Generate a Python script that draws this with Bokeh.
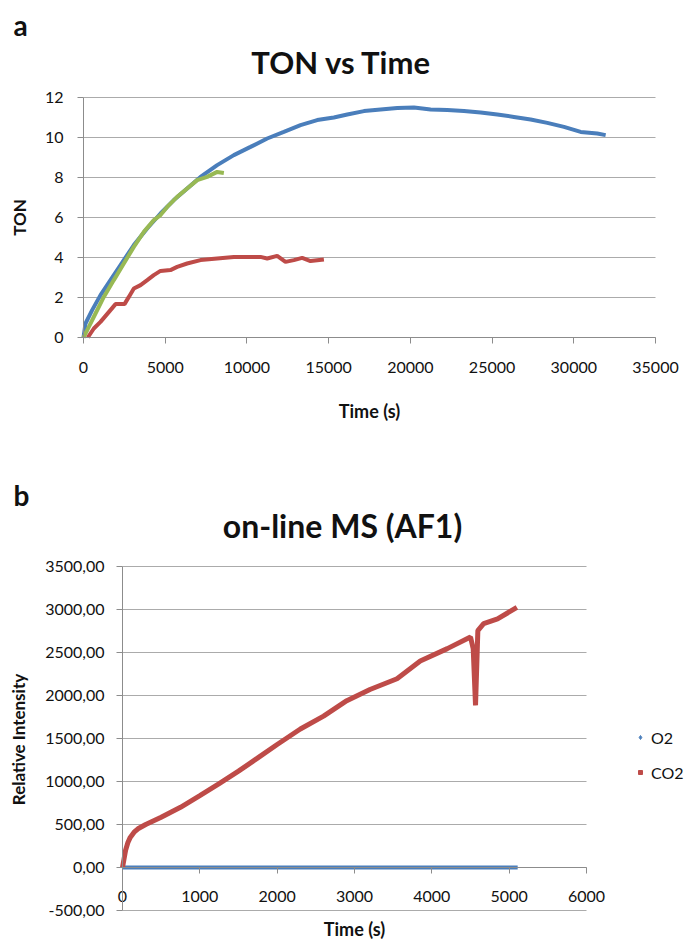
import math
from bokeh.plotting import figure
from bokeh.models import (Label, Legend, LegendItem, FixedTicker, CustomJSTickFormatter,
                          Range1d, LinearAxis, BasicTickFormatter)
from bokeh.layouts import column
from bokeh.embed import file_html
from bokeh.resources import INLINE

FONT = "Lato"
BLUE = "#4A7EBB"
RED = "#BE4B48"
GREEN = "#98B954"
GRID = "#ABABAB"
AXIS = "#8C8C8C"
TXT = "#111111"

# ---------- panel a: TON vs Time ----------
ton_x_ticks = [0, 5000, 10000, 15000, 20000, 25000, 30000, 35000]
ton_y_ticks = [0, 2, 4, 6, 8, 10, 12]

blue_t = [0, 122, 530, 1040, 1650, 2264, 3080, 3896, 4712, 5528, 6344, 7160, 8180, 9200,
          10220, 11240, 12260, 13280, 14300, 15320, 16140, 17160, 18180, 19200, 20220,
          21240, 22260, 23280, 24300, 25320, 26340, 27360, 28380, 29400, 30420, 31440, 31950]
blue_ton = [0, 0.70, 1.37, 2.12, 2.87, 3.62, 4.62, 5.45, 6.20, 6.87, 7.45, 8.03, 8.62, 9.12,
            9.53, 9.95, 10.28, 10.62, 10.87, 11.00, 11.15, 11.32, 11.40, 11.48, 11.50,
            11.40, 11.37, 11.33, 11.25, 11.15, 11.03, 10.90, 10.73, 10.53, 10.28, 10.20, 10.12]

green_t = [0, 326, 734, 1244, 1856, 2468, 3080, 3692, 4304, 4712, 5120, 5732, 6344, 6956,
           7568, 8180, 8588]
green_ton = [0, 0.53, 1.20, 2.03, 2.87, 3.70, 4.53, 5.28, 5.87, 6.12, 6.53, 7.03, 7.45, 7.87,
             8.03, 8.28, 8.23]

red_t = [265, 632, 1040, 1650, 1960, 2510, 2775, 3080, 3490, 3900, 4300, 4710, 5320, 5730,
         6340, 7160, 8180, 9200, 10000, 10830, 11240, 11850, 12360, 12870, 13380, 13890, 14710]
red_ton = [0, 0.45, 0.78, 1.37, 1.67, 1.67, 2.03, 2.45, 2.62, 2.87, 3.12, 3.33, 3.37, 3.53,
           3.70, 3.87, 3.95, 4.03, 4.03, 4.03, 3.95, 4.08, 3.78, 3.87, 3.98, 3.82, 3.90]

# ---------- panel b: on-line MS (AF1) ----------
ms_x_ticks = [0, 1000, 2000, 3000, 4000, 5000, 6000]
ms_y_ticks = [-500, 0, 500, 1000, 1500, 2000, 2500, 3000, 3500]

o2_t = [0, 1000, 2000, 3000, 4000, 5000, 5110]
o2_int = [0, 0, 0, 0, 0, 0, 0]

co2_t = [0, 20, 40, 70, 100, 150, 200, 300, 500, 750, 1000, 1250, 1500, 1750, 2000, 2300,
         2600, 2900, 3200, 3550, 3850, 4200, 4500, 4535, 4565, 4595, 4670, 4850, 5100]
co2_int = [0, 100, 200, 290, 350, 410, 450, 500, 585, 700, 835, 975, 1120, 1275, 1430, 1610,
           1760, 1940, 2070, 2195, 2400, 2545, 2680, 2545, 1885, 2755, 2835, 2890, 3025]

W, H = 684, 470


def make_fig(px_a, px_b, xa, xb, py_a, py_b, ya, yb):
    """Figure whose frame covers the whole canvas; data xa->px_a, xb->px_b etc."""
    sx = (px_b - px_a) / (xb - xa)
    sy = (py_b - py_a) / (yb - ya)  # negative (canvas y grows downward)
    x0 = xa - px_a / sx
    x1 = xa + (W - px_a) / sx
    y_top = ya - py_a / sy
    y_bot = ya + (H - py_a) / sy
    p = figure(width=W, height=H, output_backend="svg", toolbar_location=None,
               x_range=Range1d(x0, x1), y_range=Range1d(y_bot, y_top),
               x_axis_location=None, y_axis_location=None,
               min_border=0, min_border_left=0, min_border_right=0,
               min_border_top=0, min_border_bottom=0)
    p.outline_line_color = None
    p.background_fill_color = "white"
    p.border_fill_color = "white"
    p.xgrid.visible = False
    p.ygrid.visible = False
    return p


def style_axis(ax, standoff):
    ax.axis_line_color = AXIS
    ax.axis_line_width = 1
    ax.major_tick_line_color = AXIS
    ax.minor_tick_line_color = None
    ax.major_tick_in = 0
    ax.major_tick_out = 6
    ax.major_label_standoff = standoff
    ax.major_label_text_font = FONT
    ax.major_label_text_font_size = "16px"
    ax.major_label_text_color = TXT


def hgrid(p, yticks, x_start, x_end):
    n = len(yticks)
    p.segment(x0=[x_start] * n, y0=yticks, x1=[x_end] * n, y1=yticks,
              line_color=GRID, line_width=1)


def text_label(p, x, y, text, size, bold=True, align="center", angle=0.0, color=TXT):
    p.add_layout(Label(x=x, y=y, x_units="screen", y_units="screen", text=text,
                       text_font=FONT, text_font_style="bold" if bold else "normal",
                       text_font_size=size, text_align=align, text_baseline="middle",
                       angle=angle, text_color=color))


# ---- figure a ----
p1 = make_fig(83, 655, 0, 35000, 337, 97, 0, 12)
hgrid(p1, ton_y_ticks, ton_x_ticks[0], ton_x_ticks[-1])
xa1 = LinearAxis(fixed_location=0, bounds=(0, 35000), ticker=FixedTicker(ticks=ton_x_ticks),
                 formatter=BasicTickFormatter(use_scientific=False))
ya1 = LinearAxis(fixed_location=0, bounds=(0, 12), ticker=FixedTicker(ticks=ton_y_ticks))
style_axis(xa1, 18)
style_axis(ya1, 14)
p1.add_layout(xa1, "below")
p1.add_layout(ya1, "left")

p1.line(blue_t, blue_ton, line_color=BLUE, line_width=4)
p1.line(green_t, green_ton, line_color=GREEN, line_width=4)
p1.line(red_t, red_ton, line_color=RED, line_width=4)

text_label(p1, 341, H - 61, "TON vs Time", "31px")
text_label(p1, 13, H - 24, "a", "28px", align="left")
text_label(p1, 369, H - 410, "Time (s)", "18px")
text_label(p1, 19, H - 217, "TON", "17px", angle=math.pi / 2)

# ---- figure b ----
p2 = make_fig(122, 586, 0, 6000, 397, 96, 0, 3500)
hgrid(p2, ms_y_ticks, ms_x_ticks[0], ms_x_ticks[-1])
xa2 = LinearAxis(fixed_location=0, bounds=(0, 6000), ticker=FixedTicker(ticks=ms_x_ticks))
ya2 = LinearAxis(fixed_location=0, bounds=(-500, 3500), ticker=FixedTicker(ticks=ms_y_ticks),
                 formatter=CustomJSTickFormatter(code="return tick.toFixed(2).replace('.', ',');"))
style_axis(xa2, 17)
style_axis(ya2, 12)
p2.add_layout(xa2, "below")
p2.add_layout(ya2, "left")

p2.line(o2_t, o2_int, line_color=BLUE, line_width=4)
p2.line(co2_t, co2_int, line_color=RED, line_width=5)

# legend-only marker renderers (single point far outside the visible ranges)
leg_o2 = p2.scatter([-1e6], [-1e6], marker="diamond", size=7, fill_color=BLUE, line_color=BLUE)
leg_co2 = p2.scatter([-1e6], [-1e6], marker="square", size=4, fill_color=RED, line_color=RED)
legend = Legend(items=[LegendItem(label="O2", renderers=[leg_o2]),
                       LegendItem(label="CO2", renderers=[leg_co2])],
                location=(635, 158), orientation="vertical",
                label_text_font=FONT, label_text_font_size="16px", label_text_color=TXT,
                glyph_width=10, glyph_height=10, label_height=20, spacing=15,
                label_standoff=6, padding=0, margin=0,
                background_fill_alpha=0, border_line_color=None)
p2.add_layout(legend, "center")

text_label(p2, 342, H - 55, "on-line MS (AF1)", "32px")
text_label(p2, 13, H - 24, "b", "28px", align="left")
text_label(p2, 354, H - 458, "Time (s)", "18px")
text_label(p2, 18, H - 269, "Relative Intensity", "17px", angle=math.pi / 2)

layout = column(p1, p2, spacing=0)
open("out.html", "w").write(file_html(layout, INLINE))
